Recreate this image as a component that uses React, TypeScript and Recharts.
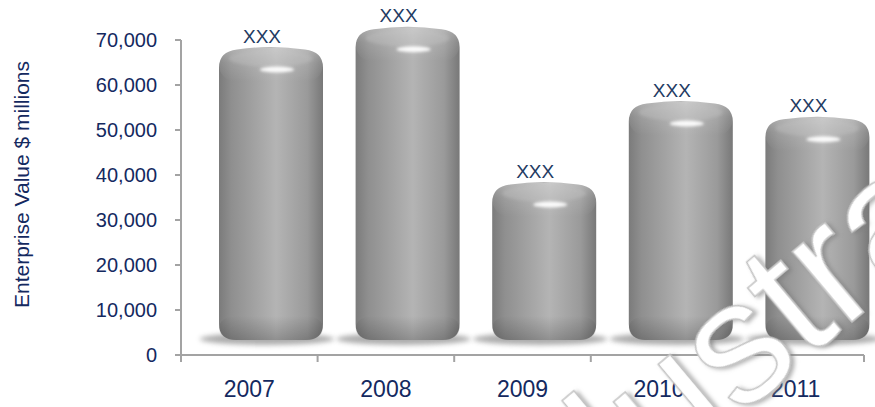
import React from 'react';
import { BarChart, Bar, XAxis, YAxis, LabelList } from 'recharts';

const years = ['2007', '2008', '2009', '2010', '2011'];
const enterpriseValue = [65000, 69500, 35000, 53000, 49500];
const barLabels = ['XXX', 'XXX', 'XXX', 'XXX', 'XXX'];
const yTicks = [0, 10000, 20000, 30000, 40000, 50000, 60000, 70000];

const data = years.map((year, i) => ({ year, value: enterpriseValue[i], label: barLabels[i] }));

const FONT = 'Arial, "Liberation Sans", sans-serif';
const NAVY = '#14295f';
const AXIS_GREY = '#a3a3a3';

// plot box
const W = 875;
const H = 407;
const M_TOP = 40;
const M_RIGHT = 11;
const Y_AXIS_W = 181;
const X_AXIS_H = 52;
const BAND = (W - M_RIGHT - Y_AXIS_W) / years.length;

// fake 3d offset of the cylinders
const DX = 22;
const DY = 15;

function Cylinder(props: any) {
  const { x, y, width, height } = props;
  const left = x + DX;
  const top = y - DY;
  const bottom = y + height - DY;
  const cx = left + width / 2;
  // domed top: corners curve in, centre sits a bit higher
  const body = `M ${left} ${bottom - 16}
    L ${left} ${top + 20}
    Q ${left} ${top + 4} ${left + 18} ${top + 2}
    Q ${cx} ${top - 3} ${left + width - 18} ${top + 2}
    Q ${left + width} ${top + 4} ${left + width} ${top + 20}
    L ${left + width} ${bottom - 16}
    Q ${left + width} ${bottom} ${left + width - 18} ${bottom}
    L ${left + 18} ${bottom}
    Q ${left} ${bottom} ${left} ${bottom - 16} Z`;
  return (
    <g>
      <ellipse cx={cx - 4} cy={bottom - 1} rx={width / 2 + 15} ry={6} fill="#8a8a8a" opacity={0.7} filter="url(#soft)" />
      <path d={body} fill="url(#body)" />
      <rect x={left} y={top} width={width} height={34} rx={16} ry={20} fill="url(#topShade)" />
      <rect x={left} y={bottom - 24} width={width} height={24} rx={16} ry={14} fill="url(#base)" />
      <ellipse cx={cx} cy={top + 11} rx={width / 2 - 10} ry={8} fill="#c4c4c4" opacity={0.35} filter="url(#glow)" />
      <ellipse cx={cx + 6} cy={top + 22} rx={17} ry={3} fill="#ffffff" opacity={0.95} filter="url(#glow)" />
    </g>
  );
}

function XTick(props: any) {
  const { x, y, payload, index } = props;
  const tickX = x - BAND / 2;
  return (
    <g>
      <line x1={tickX} y1={y} x2={tickX} y2={y + 7} stroke={AXIS_GREY} strokeWidth={2} />
      {index === years.length - 1 && (
        <line x1={x + BAND / 2} y1={y} x2={x + BAND / 2} y2={y + 7} stroke={AXIS_GREY} strokeWidth={2} />
      )}
      <text x={x} y={y + 42} textAnchor="middle" fill={NAVY} fontSize={23} fontFamily={FONT}>
        {payload.value}
      </text>
    </g>
  );
}

function TopLabel(props: any) {
  const { x, y, width, value } = props;
  return (
    <text x={x + width / 2 + 13} y={y - 20} textAnchor="middle" fill="#1f3b63" fontSize={19} fontFamily={FONT}>
      {value}
    </text>
  );
}

function YTitle(props: any) {
  const { viewBox } = props;
  const cy = viewBox.y + viewBox.height / 2 - 13;
  return (
    <text x={21} y={cy} transform={`rotate(-90 21 ${cy})`} textAnchor="middle" dominantBaseline="central" fill={NAVY} fontSize={21} fontFamily={FONT}>
      Enterprise Value $ millions
    </text>
  );
}

export default function App() {
  return (
    <div style={{ position: 'absolute', left: 0, top: 0, width: W, height: H, background: '#fff', overflow: 'hidden' }}>
      <BarChart width={W} height={H} data={data} margin={{ top: M_TOP, right: M_RIGHT, bottom: 0, left: 0 }}>
        <defs>
          <linearGradient id="body" x1="0" y1="0" x2="1" y2="0">
            <stop offset="0%" stopColor="#7b7b7b" />
            <stop offset="12%" stopColor="#8f8f8f" />
            <stop offset="55%" stopColor="#b4b4b4" />
            <stop offset="85%" stopColor="#9a9a9a" />
            <stop offset="100%" stopColor="#787878" />
          </linearGradient>
          <linearGradient id="topShade" x1="0" y1="0" x2="0" y2="1">
            <stop offset="0%" stopColor="#ffffff" stopOpacity={0.3} />
            <stop offset="45%" stopColor="#ffffff" stopOpacity={0.12} />
            <stop offset="100%" stopColor="#ffffff" stopOpacity={0} />
          </linearGradient>
          <linearGradient id="base" x1="0" y1="0" x2="0" y2="1">
            <stop offset="0%" stopColor="#000" stopOpacity={0} />
            <stop offset="100%" stopColor="#000" stopOpacity={0.2} />
          </linearGradient>
          <filter id="soft" x="-20%" y="-100%" width="140%" height="300%">
            <feGaussianBlur stdDeviation="2.5" />
          </filter>
          <filter id="glow" x="-50%" y="-200%" width="200%" height="500%">
            <feGaussianBlur stdDeviation="1.5" />
          </filter>
        </defs>
        <XAxis
          dataKey="year"
          height={X_AXIS_H}
          stroke={AXIS_GREY}
          strokeWidth={2}
          tickLine={false}
          tickSize={0}
          tickMargin={0}
          tick={<XTick />}
          interval={0}
        />
        <YAxis
          width={Y_AXIS_W}
          domain={[0, 70000]}
          ticks={yTicks}
          interval={0}
          stroke={AXIS_GREY}
          strokeWidth={2}
          tickSize={6}
          tickMargin={18}
          tickLine={{ stroke: AXIS_GREY, strokeWidth: 2 }}
          tick={{ fill: NAVY, fontSize: 20, fontFamily: FONT }}
          tickFormatter={(v: number) => v.toLocaleString('en-US')}
          label={<YTitle />}
        />
        <Bar dataKey="value" barSize={104} shape={<Cylinder />} isAnimationActive={false}>
          <LabelList dataKey="label" content={<TopLabel />} />
        </Bar>
      </BarChart>
      <svg width={W} height={H} style={{ position: 'absolute', left: 0, top: 0, pointerEvents: 'none' }}>
        <defs>
          <filter id="wmShadow" x="-10%" y="-10%" width="120%" height="120%">
            <feDropShadow dx="2" dy="3" stdDeviation="2" floodColor="#7a7a7a" floodOpacity="0.6" />
          </filter>
        </defs>
        <text
          x={567}
          y={561}
          transform="rotate(-40 567 561)"
          fontSize={175}
          fontFamily={FONT}
          fill="#ffffff"
          stroke="#c4c4c4"
          strokeWidth={1.5}
          filter="url(#wmShadow)"
        >
          Illustrative
        </text>
      </svg>
    </div>
  );
}
